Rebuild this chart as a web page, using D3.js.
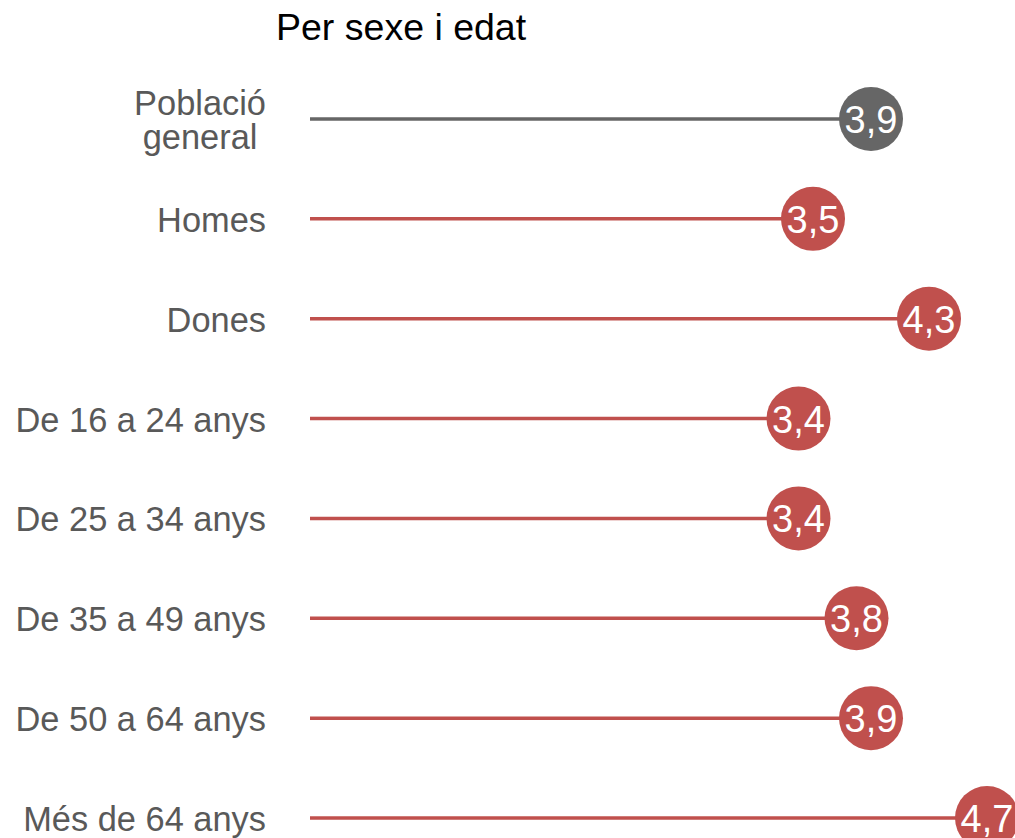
<!DOCTYPE html>
<html>
<head>
<meta charset="utf-8">
<script src="https://cdn.jsdelivr.net/npm/d3@7"></script>
<style>
  html, body { margin: 0; padding: 0; background: #ffffff; }
  svg { display: block; font-family: "Liberation Sans", Arial, sans-serif; }
</style>
</head>
<body>
<svg id="chart" width="1015" height="838"></svg>
<script>
const title = "Per sexe i edat";
const categories = [
  ["Població", "general"],
  ["Homes"],
  ["Dones"],
  ["De 16 a 24 anys"],
  ["De 25 a 34 anys"],
  ["De 35 a 49 anys"],
  ["De 50 a 64 anys"],
  ["Més de 64 anys"]
];
const values = [3.9, 3.5, 4.3, 3.4, 3.4, 3.8, 3.9, 4.7];
const groups = ["total", "sub", "sub", "sub", "sub", "sub", "sub", "sub"];

const colors = { total: "#666666", sub: "#c0504d" };

const svg = d3.select("#chart");

const ids = categories.map((c, i) => i);
const y = d3.scalePoint().domain(ids).range([119, 818]);
const x = d3.scaleLinear().domain([0, 4.7]).range([305.5, 987]);
const lineStart = 310;

svg.append("text")
  .attr("x", 276)
  .attr("y", 40)
  .attr("font-size", 37.5)
  .attr("fill", "#000000")
  .text(title);

const rows = svg.selectAll("g.row").data(ids).join("g").attr("class", "row");

rows.append("line")
  .attr("x1", lineStart)
  .attr("x2", i => x(values[i]))
  .attr("y1", i => y(i))
  .attr("y2", i => y(i))
  .attr("stroke", i => colors[groups[i]])
  .attr("stroke-width", 3.5);

rows.append("circle")
  .attr("cx", i => x(values[i]))
  .attr("cy", i => y(i))
  .attr("r", 32)
  .attr("fill", i => colors[groups[i]]);

const fmt = v => d3.format(".1f")(v).replace(".", ",");

rows.append("text")
  .attr("x", i => x(values[i]))
  .attr("y", i => y(i) + 14)
  .attr("text-anchor", "middle")
  .attr("font-size", 38)
  .attr("fill", "#ffffff")
  .text(i => fmt(values[i]));

// category labels (right aligned block, multi-line centered within block)
const labelRight = 266;
const fs = 34.4, lh = 34;
rows.each(function(i) {
  const g = d3.select(this);
  const lines = categories[i];
  const n = lines.length;
  const t = g.append("text")
    .attr("font-size", fs)
    .attr("fill", "#595959");
  const spans = lines.map((ln, k) => t.append("tspan")
    .attr("y", y(i) + 13 + (k - (n - 1) / 2) * lh)
    .text(ln));
  const widths = spans.map(s => s.node().getComputedTextLength());
  const maxW = d3.max(widths);
  spans.forEach((s) => {
    s.attr("x", labelRight - maxW / 2).attr("text-anchor", "middle");
  });
});
</script>
</body>
</html>
